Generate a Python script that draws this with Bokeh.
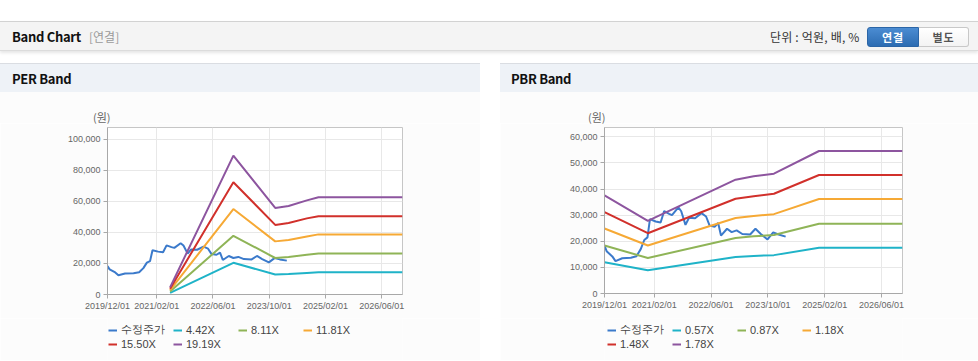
from bokeh.plotting import figure
from bokeh.models import (Range1d, FixedTicker, NumeralTickFormatter, Legend, LegendItem,
                          Div, Spacer)
from bokeh.layouts import column, row
from bokeh.embed import file_html
from bokeh.resources import INLINE

# ---------------- data ----------------
# x values: months since 2019/12/01
tick_months = [0, 14, 30, 46, 62, 78]
tick_labels = ["2019/12/01", "2021/02/01", "2022/06/01", "2023/10/01", "2025/02/01", "2026/06/01"]
x_end = 83.9

price_label = "수정주가"
price_month = [0, 0.6, 2.2, 3.1, 5.0, 7.4, 9.0, 10.2, 11.2, 12.1, 12.8, 14.4, 15.8, 16.8, 18.2,
               19.0, 20.8, 21.6, 22.8, 23.8, 25.5, 27.3, 28.6, 29.6, 31.0, 32.0, 32.8, 34.5,
               35.8, 37.2, 38.8, 41.0, 42.5, 44.0, 45.9, 47.5, 49.0, 51.0]
price_value = [18300, 16200, 14200, 12400, 13500, 13700, 14300, 17000, 20500, 21500, 28500,
               27600, 27200, 31600, 30500, 30000, 33000, 31500, 26300, 29000, 28800, 30800,
               29500, 26000, 25600, 27000, 22200, 24800, 23500, 24200, 22800, 22600, 24800,
               22800, 20700, 23400, 22600, 21800]

# PER band
per_month = [17.8, 35.8, 47.7, 51.5, 56.7, 60.0, 83.9]
per_labels = ["4.42X", "8.11X", "11.81X", "15.50X", "19.19X"]
per_4_42 = [1100, 20400, 12900, 13200, 13900, 14300, 14300]
per_8_11 = [1900, 37800, 23500, 24100, 25600, 26400, 26400]
per_11_81 = [2800, 55000, 34200, 35100, 37300, 38700, 38700]
per_15_50 = [3700, 72300, 44800, 46000, 49000, 50400, 50400]
per_19_19 = [4600, 89400, 55700, 57000, 60600, 62600, 62600]
per_y_ticks = [0, 20000, 40000, 60000, 80000, 100000]
per_y_max = 107500

# PBR band
pbr_month = [0, 12.2, 36.9, 42.0, 47.7, 60.4, 83.9]
pbr_labels = ["0.57X", "0.87X", "1.18X", "1.48X", "1.78X"]
pbr_0_57 = [12000, 8900, 14000, 14400, 14700, 17500, 17500]
pbr_0_87 = [18400, 13600, 21300, 21900, 22400, 26700, 26700]
pbr_1_18 = [24900, 18400, 28900, 29700, 30400, 36200, 36200]
pbr_1_48 = [31200, 23100, 36300, 37300, 38200, 45400, 45400]
pbr_1_78 = [37600, 27800, 43600, 44900, 45900, 54600, 54600]
pbr_y_ticks = [0, 10000, 20000, 30000, 40000, 50000, 60000]
pbr_y_max = 63600

price_color = "#3b7acb"
band_colors = ["#1fb3c8", "#8fb457", "#f6a935", "#d1302b", "#8d559f"]

LAT = "Liberation Sans"
KR = "Noto Sans CJK KR"
PANEL_BG = "#fcfcfc"


def band_fig(width, left, right, bottom, y_max, y_ticks, bmonth, bands):
    p = figure(width=width, height=195, x_range=Range1d(0, x_end), y_range=Range1d(0, y_max),
               output_backend="svg", toolbar_location=None,
               min_border_left=left, min_border_right=right, min_border_top=4,
               min_border_bottom=bottom,
               background_fill_color="#ffffff", border_fill_color=PANEL_BG,
               outline_line_color="#c6c6c6", margin=0)
    p.xaxis.ticker = FixedTicker(ticks=tick_months)
    p.xaxis.major_label_overrides = {m: l for m, l in zip(tick_months, tick_labels)}
    p.yaxis.ticker = FixedTicker(ticks=y_ticks)
    p.yaxis.formatter = NumeralTickFormatter(format="0,0")
    for ax in (p.xaxis[0], p.yaxis[0]):
        ax.axis_line_color = "#a8a8a8"
        ax.major_tick_line_color = "#a8a8a8"
        ax.major_tick_out = 4
        ax.major_tick_in = 0
        ax.minor_tick_line_color = None
        ax.major_label_text_font = LAT
        ax.major_label_text_font_size = "9px"
        ax.major_label_text_color = "#666666"
        ax.major_label_standoff = 3
    p.xaxis.major_label_standoff = 2
    p.grid.grid_line_color = "#e8e8e8"

    p.line(price_month, price_value, line_color=price_color, line_width=2)
    for vals, col in zip(bands, band_colors):
        p.line(bmonth, vals, line_color=col, line_width=2)
    return p


def legend_fig(width, leg_dx, bmonth, bands, blabels):
    # legend strip under the chart: same series, whose lines fall outside this strip's 0..1 ranges
    q = figure(width=width, height=42, x_range=Range1d(0, 1), y_range=Range1d(0, 1),
               x_axis_type=None, y_axis_type=None, output_backend="svg", toolbar_location=None,
               min_border_left=0, min_border_right=0, min_border_top=0, min_border_bottom=0,
               background_fill_color=PANEL_BG, border_fill_color=PANEL_BG,
               outline_line_color=None, margin=0)
    items = []
    r = q.line(price_month, price_value, line_color=price_color, line_width=2)
    items.append(LegendItem(label=price_label, renderers=[r]))
    for vals, lab, col in zip(bands, blabels, band_colors):
        r = q.line(bmonth, vals, line_color=col, line_width=2)
        items.append(LegendItem(label=lab, renderers=[r]))
    legend = Legend(items=items, location=(leg_dx, 9), orientation="horizontal", ncols=4,
                    glyph_width=9, glyph_height=14, label_height=14, label_width=52,
                    label_standoff=4, spacing=0, padding=0, margin=0,
                    label_text_font=LAT, label_text_font_size="11px", label_text_color="#444444",
                    background_fill_alpha=0, border_line_alpha=0)
    q.add_layout(legend)
    return q


per_bands = [per_4_42, per_8_11, per_11_81, per_15_50, per_19_19]
pbr_bands = [pbr_0_57, pbr_0_87, pbr_1_18, pbr_1_48, pbr_1_78]
per_fig = band_fig(480, 107, 78, 24, per_y_max, per_y_ticks, per_month, per_bands)
pbr_fig = band_fig(478, 104, 76, 25, pbr_y_max, pbr_y_ticks, pbr_month, pbr_bands)
per_leg = legend_fig(480, 1, per_month, per_bands, per_labels)
pbr_leg = legend_fig(478, 3, pbr_month, pbr_bands, pbr_labels)

header_html = f"""
<div style="position:relative;width:978px;height:63px;overflow:hidden;font-family:'{KR}',sans-serif;">
  <div style="position:absolute;left:0;top:21px;width:978px;height:30px;background:#f4f4f4;
       border-top:1px solid #d2d2d2;border-bottom:1px solid #dcdcdc;
       box-shadow:0 2px 3px rgba(0,0,0,0.10);"></div>
  <div style="position:absolute;left:12px;top:27px;height:20px;line-height:20px;font-size:13px;
       letter-spacing:-0.3px;font-weight:bold;color:#111;">Band Chart</div>
  <div style="position:absolute;left:89px;top:27px;height:20px;line-height:20px;font-size:12px;
       color:#9a9a9a;">[연결]</div>
  <div style="position:absolute;left:770px;top:27px;height:20px;line-height:20px;font-size:12px;
       letter-spacing:0.2px;color:#333;">단위 : 억원, 배, %</div>
  <div style="position:absolute;left:867px;top:27px;width:52px;height:20px;box-sizing:border-box;
       background:linear-gradient(#4b8cd2,#2c6cb2);border:1px solid #2b65a6;border-radius:3px 0 0 3px;
       color:#fff;font-size:11px;font-weight:bold;letter-spacing:1px;text-align:center;line-height:18px;">연결</div>
  <div style="position:absolute;left:919px;top:27px;width:50px;height:20px;box-sizing:border-box;
       background:linear-gradient(#ffffff,#f3f3f3);border:1px solid #c8c8c8;border-left:none;
       border-radius:0 3px 3px 0;color:#555;font-size:11px;font-weight:bold;letter-spacing:1px;
       text-align:center;line-height:18px;">별도</div>
</div>
"""


def panel_head(text, width, text_left):
    return Div(text=f"""
<div style="position:relative;width:{width}px;height:29px;box-sizing:border-box;background:#eef2f7;
     border-top:1px solid #dadde2;font-family:'{KR}',sans-serif;">
  <div style="position:absolute;left:{text_left}px;top:5px;height:20px;line-height:20px;font-size:13px;
       letter-spacing:-0.3px;font-weight:bold;color:#111;">{text}</div>
</div>""", width=width, height=29, margin=0)


def unit_div(width, text_left):
    return Div(text=f"""
<div style="position:relative;width:{width}px;height:31px;background:{PANEL_BG};
     font-family:'{KR}',sans-serif;">
  <div style="position:absolute;left:{text_left}px;top:15px;height:20px;line-height:20px;font-size:11px;
       color:#666;">(원)</div>
</div>""", width=width, height=31, margin=0)


header = Div(text=header_html, width=978, height=63, margin=0)
per_col = column(panel_head("PER Band", 480, 12), unit_div(480, 93), per_fig, per_leg, margin=0)
pbr_col = column(panel_head("PBR Band", 478, 11), unit_div(478, 88), pbr_fig, pbr_leg, margin=0)

layout = column(header,
                row(per_col, Spacer(width=20, height=297, margin=0), pbr_col, margin=0),
                margin=0)

open("out.html", "w").write(file_html(layout, INLINE))
